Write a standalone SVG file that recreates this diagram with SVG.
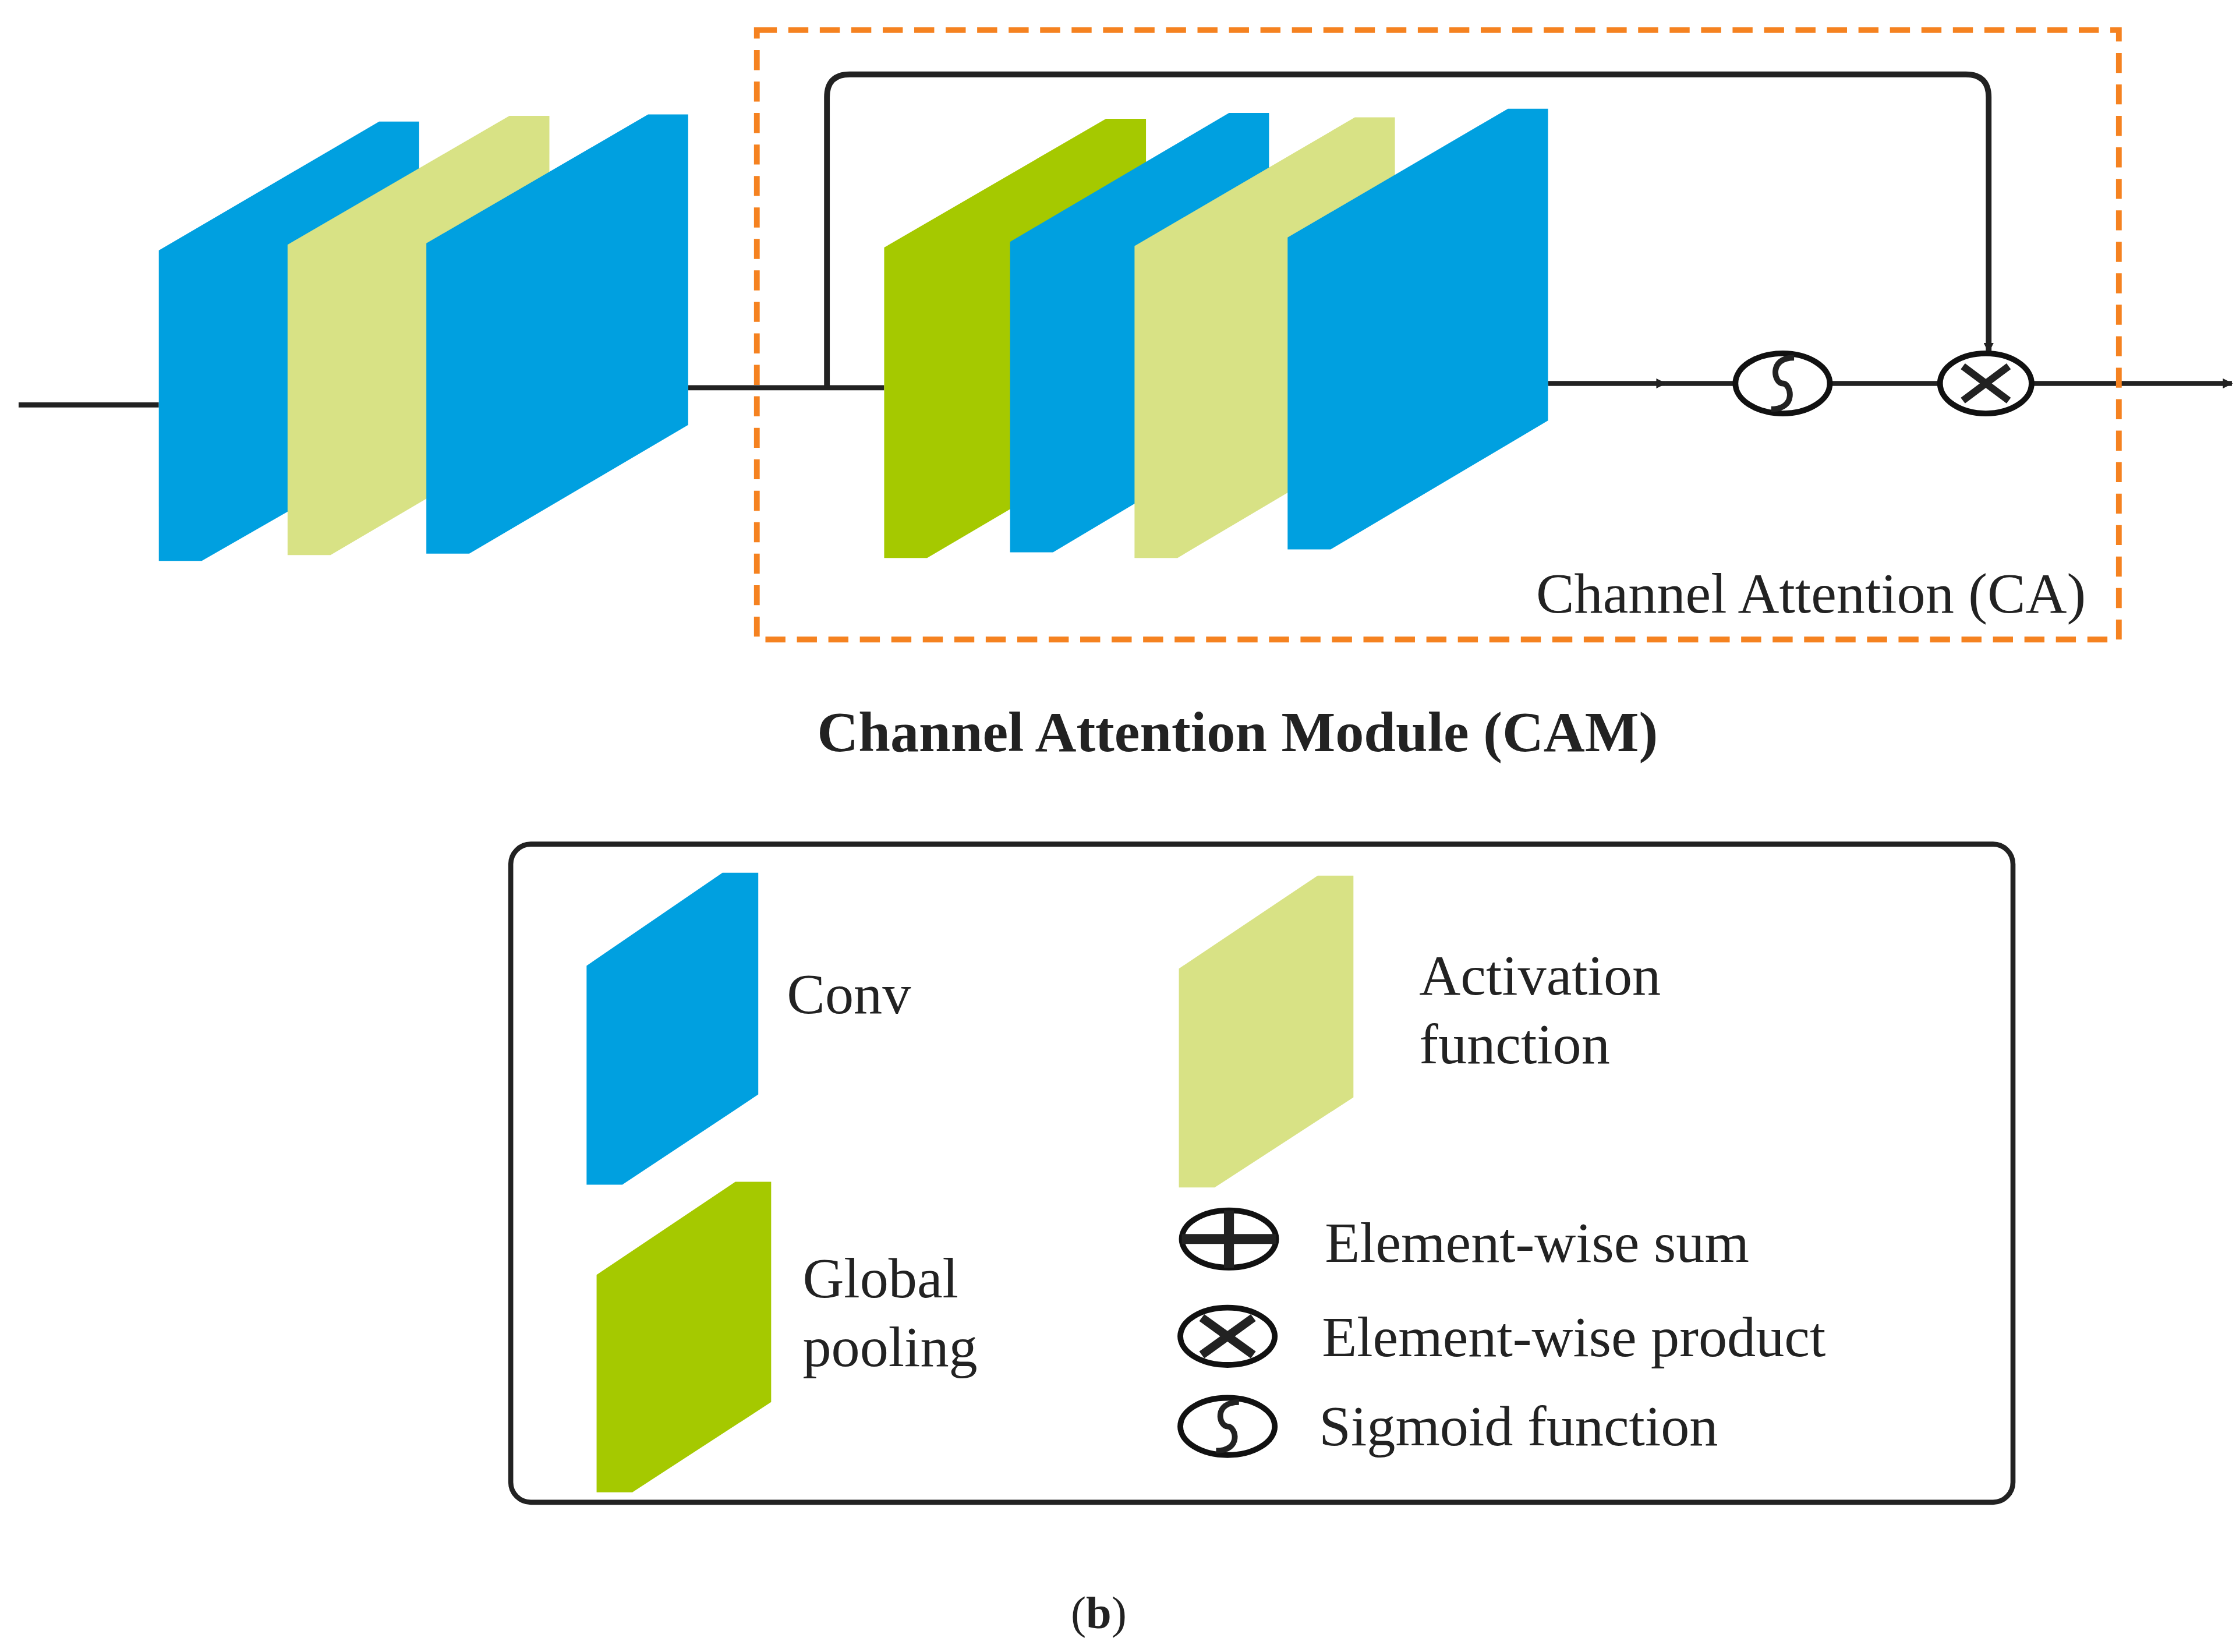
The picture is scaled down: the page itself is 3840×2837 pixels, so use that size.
<svg xmlns="http://www.w3.org/2000/svg" width="3840" height="2837" viewBox="0 0 3840 2837">
<defs>
<style>
.b{fill:#00A0E0}.l{fill:#D8E285}.g{fill:#A5C900}
.ln{stroke:#222;stroke-width:3.5;fill:none}
.sym{stroke:#111;stroke-width:4;fill:#fff}
.t{font-family:"Liberation Serif",serif;font-size:40px;fill:#222}
</style>
<marker id="ar" viewBox="0 0 10 10" refX="9" refY="5" markerWidth="9" markerHeight="7" markerUnits="userSpaceOnUse" orient="auto"><path d="M0,0L10,5L0,10z" fill="#222"/></marker>
</defs>
<rect width="3840" height="2837" fill="#fff"/>
<g transform="scale(2.457)">
<g id="connectors">
<line class="ln" x1="13" y1="283" x2="111" y2="283"/>
<line class="ln" x1="481" y1="271" x2="618" y2="271"/>
<path class="ln" d="M578,271V68Q578,52 594,52H1374Q1390,52 1390,68V246" marker-end="url(#ar)" style="stroke-width:4"/>
<line class="ln" x1="1082" y1="268" x2="1164" y2="268" marker-end="url(#ar)"/>
<line class="ln" x1="1164" y1="268" x2="1212" y2="268"/>
<line class="ln" x1="1280" y1="268" x2="1356" y2="268"/>
<line class="ln" x1="1420" y1="268" x2="1560" y2="268" marker-end="url(#ar)"/>
</g>
<g id="block1"><polygon class="b" points="111,175 265,85 293,85 293,305 141,392 111,392"/></g>
<g id="block2"><polygon class="l" points="201,171 356,81 384,81 384,298 231,388 201,388"/></g>
<g id="block3"><polygon class="b" points="298,170 453,80 481,80 481,297 328,387 298,387"/></g>
<g id="ca-frame"><rect x="529" y="21" width="952" height="426" fill="none" stroke="#F58220" stroke-width="4" stroke-dasharray="14,8"/>
<text class="t" x="1458" y="428" text-anchor="end">Channel Attention (CA)</text></g>
<g id="ca1"><polygon class="g" points="618,173 773,83 801,83 801,300 648,390 618,390"/></g>
<g id="ca2"><polygon class="b" points="706,169 859,79 887,79 887,296 736,386 706,386"/></g>
<g id="ca3"><polygon class="l" points="793,172 947,82 975,82 975,300 823,390 793,390"/></g>
<g id="ca4"><polygon class="b" points="900,166 1054,76 1082,76 1082,294 930,384 900,384"/></g>
<g id="sigmoid"><ellipse class="sym" cx="1246" cy="268" rx="33" ry="21"/><path class="ln" style="stroke-width:4" d="M1254,250C1236,250 1240,268 1246,268S1256,286 1238,286"/></g>
<g id="product"><ellipse class="sym" cx="1388" cy="268" rx="32" ry="21"/><path class="ln" style="stroke-width:5" d="M1372,256L1404,280M1404,256L1372,280"/></g>
<g id="title"><text class="t" x="865" y="525" text-anchor="middle" font-weight="bold" style="font-size:40px">Channel Attention Module (CAM)</text></g>
<g id="legend">
<rect x="357" y="590" width="1050" height="460" rx="14" fill="none" stroke="#222" stroke-width="3.5"/>
<polygon class="b" points="410,675 505,610 530,610 530,765 435,828 410,828"/>
<text class="t" x="550" y="708">Conv</text>
<polygon class="l" points="824,677 921,612 946,612 946,767 849,830 824,830"/>
<text class="t" x="992" y="695">Activation</text>
<text class="t" x="992" y="743">function</text>
<polygon class="g" points="417,891 514,826 539,826 539,980 442,1043 417,1043"/>
<text class="t" x="561" y="907">Global</text>
<text class="t" x="561" y="955">pooling</text>
<ellipse class="sym" cx="859" cy="866" rx="33" ry="20"/><path class="ln" style="stroke-width:7" d="M826,866H892M859,846V886"/>
<text class="t" x="926" y="882">Element-wise sum</text>
<ellipse class="sym" cx="858" cy="934" rx="33" ry="20"/><path class="ln" style="stroke-width:6" d="M840,921L876,947M876,921L840,947"/>
<text class="t" x="924" y="948">Element-wise product</text>
<ellipse class="sym" cx="858" cy="997" rx="33" ry="20"/><path class="ln" style="stroke-width:4" d="M866,980C848,980 852,997 858,997S868,1014 850,1014"/>
<text class="t" x="922" y="1010">Sigmoid function</text>
</g>
<text class="t" x="768" y="1138" text-anchor="middle" style="font-size:32px">(<tspan font-weight="bold">b</tspan>)</text>
</g>
</svg>
